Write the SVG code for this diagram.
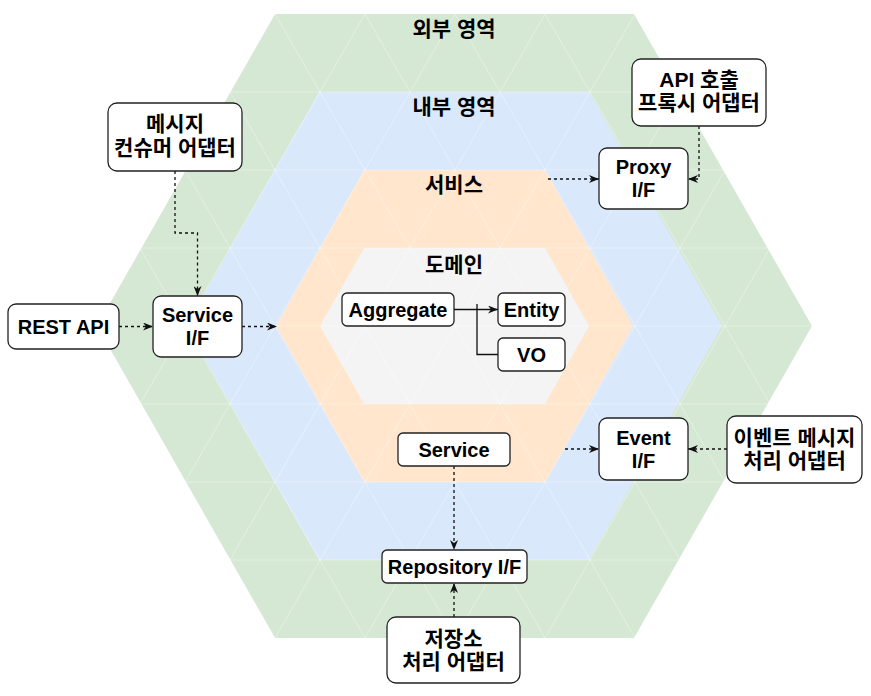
<svg xmlns="http://www.w3.org/2000/svg" width="871" height="696" viewBox="0 0 871 696">
<defs>
<style>
.lbl{font-family:"Liberation Sans","Noto Sans CJK KR",sans-serif;font-weight:bold;font-size:20px;fill:#000;text-anchor:middle}
.ko{font-size:21px}
.box{fill:#fff;stroke:#222;stroke-width:1.3}
.dash{fill:none;stroke:#111;stroke-width:1.3;stroke-dasharray:3 3}
.solid{fill:none;stroke:#111;stroke-width:1.3}
.grid{fill:none;stroke:#fff;stroke-width:0.8;stroke-opacity:0.45}
</style>
<marker id="arr" viewBox="0 0 10 8" refX="10" refY="4" markerWidth="10" markerHeight="8" markerUnits="userSpaceOnUse" orient="auto">
<path d="M0,0 L10,4 L0,8 L3,4 Z" fill="#111"/>
</marker>
<clipPath id="hexclip">
<polygon points="275,14 634,14 812,326 634,638 275,638 97,326"/>
</clipPath>
</defs>

<g id="zones">
<polygon id="outer-zone" points="275,14 634,14 812,326 634,638 275,638 97,326" fill="#d5e8d4"/>
<polygon id="inner-zone" points="319,92 589,92 722,326 589,560 319,560 186,326" fill="#dae8fc"/>
<polygon id="service-zone" points="364,170 545,170 633,326 545,482 364,482 276,326" fill="#ffe6cc"/>
<polygon id="domain-zone" points="364,248 545,248 589,326 545,404 364,404 320,326" fill="#f4f4f4"/>
<g clip-path="url(#hexclip)" class="grid">
<path d="M0,92 H871 M0,170 H871 M0,248 H871 M0,326 H871 M0,404 H871 M0,482 H871 M0,560 H871"/>
<path d="M-85,14 L275,638 M5,14 L365,638 M95,14 L455,638 M185,14 L545,638 M275,14 L635,638 M365,14 L725,638 M455,14 L815,638 M545,14 L905,638 M635,14 L995,638 M-175,14 L185,638"/>
<path d="M95,14 L-265,638 M185,14 L-175,638 M275,14 L-85,638 M365,14 L5,638 M455,14 L95,638 M545,14 L185,638 M635,14 L275,638 M725,14 L365,638 M815,14 L455,638 M905,14 L545,638 M995,14 L635,638 M1085,14 L725,638"/>
</g>
<text class="lbl ko" x="454" y="36">외부 영역</text>
<text class="lbl ko" x="454" y="114">내부 영역</text>
<text class="lbl ko" x="454" y="192">서비스</text>
<text class="lbl ko" x="454" y="272">도메인</text>
</g>

<g id="connectors">
<path class="dash" d="M119,326.5 H153" marker-end="url(#arr)"/>
<path class="dash" d="M242,326.5 H277" marker-end="url(#arr)"/>
<path class="dash" d="M175,171 V233 H197.5 V296" marker-end="url(#arr)"/>
<path class="dash" d="M548,179 H599" marker-end="url(#arr)"/>
<path class="dash" d="M699,126 V179 H688" marker-end="url(#arr)"/>
<path class="dash" d="M565,449 H599" marker-end="url(#arr)"/>
<path class="dash" d="M727,449 H688" marker-end="url(#arr)"/>
<path class="dash" d="M454,466 V550" marker-end="url(#arr)"/>
<path class="dash" d="M454,617 V583" marker-end="url(#arr)"/>
<path class="solid" d="M454,309.5 H498" marker-end="url(#arr)"/>
<path class="solid" d="M477,304 V354.5 H498"/>
</g>

<g id="rest-api"><rect class="box" x="8" y="304" width="111" height="45" rx="8"/><text class="lbl" x="63.5" y="334">REST API</text></g>
<g id="service-if"><rect class="box" x="153" y="296" width="89" height="61" rx="8"/><text class="lbl" x="197.5" y="322">Service</text><text class="lbl" x="197.5" y="345">I/F</text></g>
<g id="msg-consumer"><rect class="box" x="108" y="103" width="134" height="68" rx="9"/><text class="lbl ko" x="175" y="131">메시지</text><text class="lbl ko" x="175" y="155">컨슈머 어댑터</text></g>
<g id="api-proxy-adapter"><rect class="box" x="632" y="59" width="134" height="67" rx="9"/><text class="lbl ko" x="699" y="87">API 호출</text><text class="lbl ko" x="699" y="110">프록시 어댑터</text></g>
<g id="proxy-if"><rect class="box" x="599" y="148" width="89" height="61" rx="8"/><text class="lbl" x="643.5" y="174">Proxy</text><text class="lbl" x="643.5" y="197">I/F</text></g>
<g id="aggregate"><rect class="box" x="342" y="293" width="112" height="33" rx="5"/><text class="lbl" x="398" y="317">Aggregate</text></g>
<g id="entity"><rect class="box" x="498" y="293" width="67" height="33" rx="5"/><text class="lbl" x="531.5" y="317">Entity</text></g>
<g id="vo"><rect class="box" x="498" y="338" width="67" height="33" rx="5"/><text class="lbl" x="531.5" y="362">VO</text></g>
<g id="service"><rect class="box" x="398" y="433" width="112" height="33" rx="5"/><text class="lbl" x="454" y="457">Service</text></g>
<g id="event-if"><rect class="box" x="599" y="418" width="89" height="62" rx="8"/><text class="lbl" x="643.5" y="445">Event</text><text class="lbl" x="643.5" y="468">I/F</text></g>
<g id="event-adapter"><rect class="box" x="727" y="416" width="135" height="67" rx="9"/><text class="lbl ko" x="794.5" y="445">이벤트 메시지</text><text class="lbl ko" x="794.5" y="468">처리 어댑터</text></g>
<g id="repository-if"><rect class="box" x="382" y="550" width="145" height="33" rx="5"/><text class="lbl" x="454.5" y="574">Repository I/F</text></g>
<g id="storage-adapter"><rect class="box" x="387" y="617" width="133" height="66" rx="9"/><text class="lbl ko" x="453.5" y="646">저장소</text><text class="lbl ko" x="453.5" y="669">처리 어댑터</text></g>
</svg>
